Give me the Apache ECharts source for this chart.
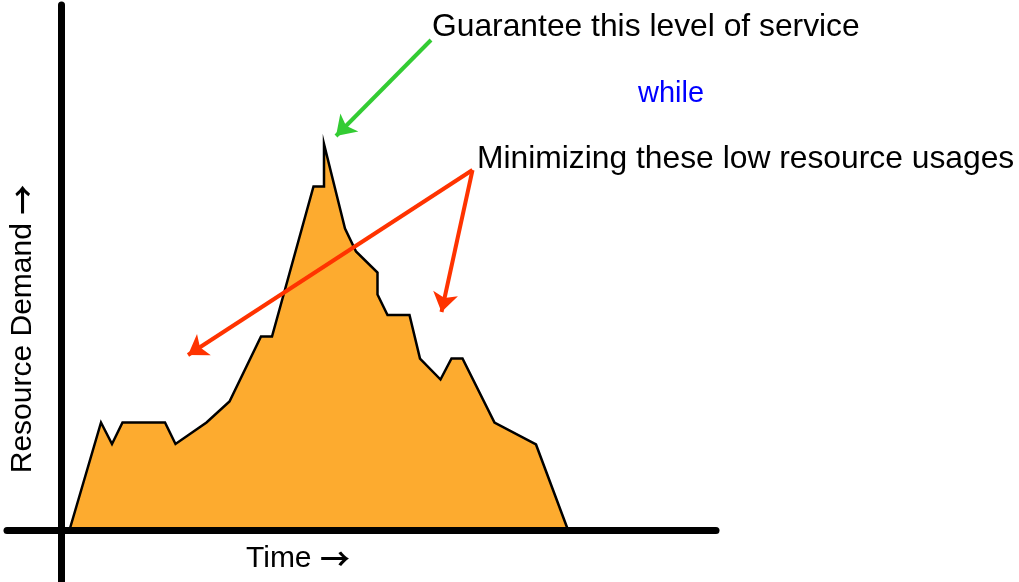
<!DOCTYPE html>
<html>
<head>
<meta charset="utf-8">
<script src="https://cdn.jsdelivr.net/npm/echarts@6/dist/echarts.min.js"></script>
<style>
  html, body { margin: 0; padding: 0; background: #fff; }
  #chart { width: 1019px; height: 582px; }
</style>
</head>
<body>
<div id="chart"></div>
<script>
// demand curve, x = time, y = demand (1 unit ~ 5px)
const timeVals = [1.7, 8, 10.2, 12.3, 20.8, 22.9, 29.1, 33.7, 40, 42.2, 50.5, 52.6, 52.6, 56.8, 59, 63.3, 63.3, 65.3, 69.7, 71.8, 75.9, 78.1, 80.3, 86.7, 95, 101.4]
const demandVals = [0, 21.5, 17.2, 21.5, 21.5, 17.2, 21.5, 25.7, 38.7, 38.7, 68.7, 68.7, 77.2, 60.3, 55.7, 51.5, 47.1, 43, 43, 34.3, 30.1, 34.3, 34.3, 21.5, 17.1, 0]

// annotation arrows [from, to]
const greenArrow = [[74, 98], [55, 78.8]]
const redArrows = [
  [[82.3, 72], [25.4, 35]],
  [[82.3, 72], [76.1, 43.6]],
]

const titleText = 'Guarantee this level of service'
const whileText = 'while'
const minText = 'Minimizing these low resource usages'
const xName = 'Time'
const yName = 'Resource Demand'

const font = '"Liberation Sans", Arial, sans-serif'
const arrowRich = { a: { fontFamily: 'Noto Sans CJK SC', fontWeight: 'bold', fontSize: 30, fill: '#000' } }
const chart = echarts.init(document.getElementById('chart'), null, { renderer: 'canvas' })

chart.setOption({
  backgroundColor: '#fff',
  animation: false,
  grid: { left: 7, right: 303, top: 5, bottom: 0 },
  xAxis: {
    type: 'value', min: -10.8, max: 131, z: 10,
    axisLine: { onZero: true, lineStyle: { color: '#000', width: 7 } },
    axisTick: { show: false }, axisLabel: { show: false }, splitLine: { show: false },
  },
  yAxis: {
    type: 'value', min: -10.4, max: 105, z: 10,
    axisLine: { onZero: true, lineStyle: { color: '#000', width: 7 } },
    axisTick: { show: false }, axisLabel: { show: false }, splitLine: { show: false },
  },
  series: [
    {
      type: 'line',
      data: timeVals.map((t, i) => [t, demandVals[i]]),
      symbol: 'none',
      lineStyle: { color: '#000', width: 2.5, join: 'miter' },
      areaStyle: { color: '#fdab2f', opacity: 1 },
      z: 2,
    },
    {
      type: 'lines', coordinateSystem: 'cartesian2d',
      data: [{ coords: greenArrow }],
      symbol: ['none', 'arrow'], symbolSize: [15, 19],
      lineStyle: { color: '#33cc33', width: 4, opacity: 1 },
      z: 5,
    },
    {
      type: 'lines', coordinateSystem: 'cartesian2d',
      data: redArrows.map(c => ({ coords: c })),
      symbol: ['none', 'arrow'], symbolSize: [15, 19],
      lineStyle: { color: '#ff3300', width: 4, opacity: 1 },
      z: 5,
    },
  ],
  graphic: [
    { type: 'text', x: 432, y: 27, style: { text: titleText, font: '31.8px ' + font, fill: '#000', verticalAlign: 'middle' } },
    { type: 'text', x: 638, y: 94, style: { text: whileText, font: '29px ' + font, fill: '#0000ff', verticalAlign: 'middle' } },
    { type: 'text', x: 477, y: 159, style: { text: minText, font: '31.8px ' + font, fill: '#000', verticalAlign: 'middle' } },
    { type: 'text', x: 246, y: 559, style: { text: xName + ' {a|\u2192}', font: '30px ' + font, fill: '#000', verticalAlign: 'middle', rich: arrowRich } },
    { type: 'text', x: 23, y: 329, rotation: Math.PI / 2, style: { text: yName + ' {a|\u2192}', font: '30px ' + font, fill: '#000', align: 'center', verticalAlign: 'middle', rich: arrowRich } },
  ],
})
</script>
</body>
</html>
